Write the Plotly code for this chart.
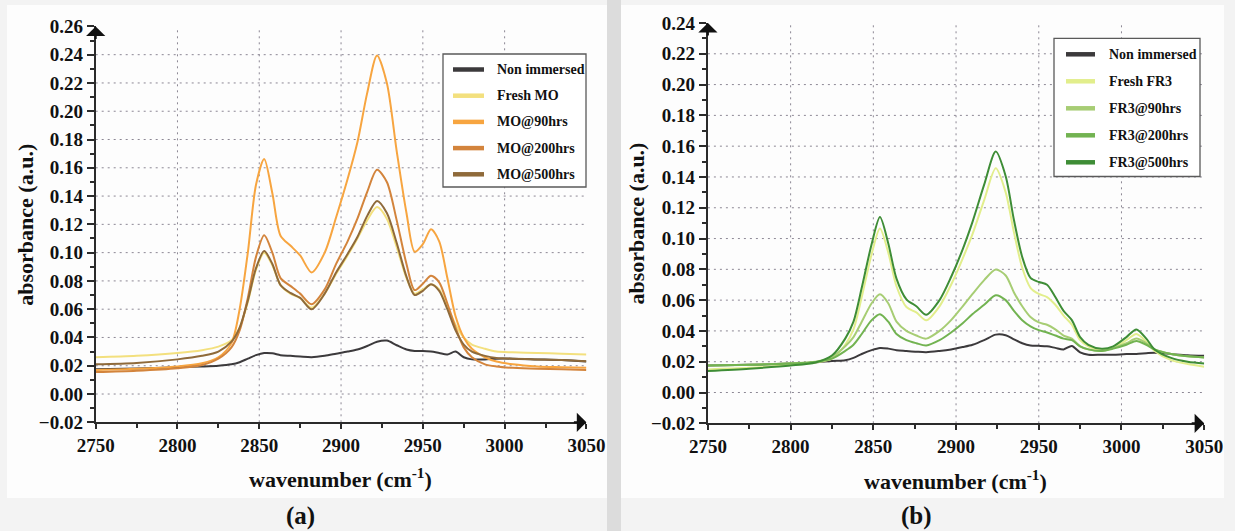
import plotly.graph_objects as go

# ---------------- data: panel (a), mineral oil ----------------
WAVENUMBER_A = [2750, 2775, 2800, 2815, 2825, 2833, 2838, 2843, 2848, 2853, 2858, 2863,
                2869, 2875, 2882, 2890, 2897, 2904, 2910, 2916, 2922, 2928, 2934, 2940,
                2945, 2950, 2955, 2960, 2965, 2970, 2975, 2980, 2988, 2995, 3005, 3020,
                3035, 3050]
NON_IMMERSED_A = [0.0175, 0.0180, 0.0190, 0.0195, 0.0200, 0.0210, 0.0225, 0.0250, 0.0275, 0.0290,
                  0.0288, 0.0275, 0.0270, 0.0265, 0.0260, 0.0270, 0.0285, 0.0300, 0.0315, 0.0340,
                  0.0370, 0.0378, 0.0345, 0.0315, 0.0305, 0.0305, 0.0300, 0.0290, 0.0280, 0.0300,
                  0.0260, 0.0245, 0.0245, 0.0250, 0.0250, 0.0245, 0.0240, 0.0230]
FRESH_MO = [0.0260, 0.0270, 0.0290, 0.0310, 0.0335, 0.0380, 0.0470, 0.0650, 0.0880, 0.1000,
            0.0910, 0.0770, 0.0710, 0.0680, 0.0610, 0.0710, 0.0850, 0.0980, 0.1100, 0.1230,
            0.1322, 0.1240, 0.1040, 0.0820, 0.0710, 0.0740, 0.0775, 0.0740, 0.0620, 0.0490,
            0.0400, 0.0350, 0.0320, 0.0300, 0.0295, 0.0290, 0.0285, 0.0280]
MO_90 = [0.0170, 0.0178, 0.0195, 0.0218, 0.0260, 0.0360, 0.0600, 0.1000, 0.1480, 0.1662,
         0.1420, 0.1120, 0.1050, 0.0980, 0.0860, 0.1000, 0.1250, 0.1520, 0.1780, 0.2130,
         0.2395, 0.2200, 0.1720, 0.1280, 0.1006, 0.1060, 0.1166, 0.1080, 0.0820, 0.0550,
         0.0400, 0.0320, 0.0260, 0.0230, 0.0210, 0.0195, 0.0190, 0.0185]
MO_200 = [0.0155, 0.0165, 0.0183, 0.0205, 0.0250, 0.0330, 0.0450, 0.0680, 0.0970, 0.1123,
          0.1000, 0.0820, 0.0765, 0.0710, 0.0635, 0.0740, 0.0920, 0.1080, 0.1240, 0.1430,
          0.1586, 0.1500, 0.1230, 0.0920, 0.0735, 0.0780, 0.0836, 0.0790, 0.0640, 0.0470,
          0.0330, 0.0260, 0.0210, 0.0195, 0.0185, 0.0178, 0.0175, 0.0170]
MO_500 = [0.0210, 0.0220, 0.0245, 0.0270, 0.0300, 0.0370, 0.0470, 0.0660, 0.0890, 0.1011,
          0.0920, 0.0770, 0.0715, 0.0680, 0.0599, 0.0710, 0.0860, 0.0990, 0.1110, 0.1260,
          0.1365, 0.1280, 0.1070, 0.0830, 0.0700, 0.0730, 0.0776, 0.0730, 0.0600, 0.0450,
          0.0350, 0.0300, 0.0270, 0.0255, 0.0250, 0.0245, 0.0240, 0.0232]

# ---------------- data: panel (b), FR3 ester ----------------
WAVENUMBER_B = [2750, 2775, 2800, 2815, 2825, 2833, 2838, 2843, 2849, 2854, 2859, 2864,
                2870, 2876, 2882, 2890, 2897, 2904, 2910, 2917, 2924, 2930, 2935, 2940,
                2945, 2950, 2955, 2960, 2965, 2970, 2975, 2980, 2988, 2995, 3003, 3009,
                3015, 3020, 3030, 3040, 3050]
NON_IMMERSED_B = [0.0176, 0.0180, 0.0188, 0.0195, 0.0205, 0.0210, 0.0225, 0.0250, 0.0275, 0.0289,
                  0.0285, 0.0275, 0.0270, 0.0265, 0.0262, 0.0270, 0.0280, 0.0295, 0.0310, 0.0340,
                  0.0376, 0.0372, 0.0345, 0.0320, 0.0305, 0.0303, 0.0300, 0.0290, 0.0280, 0.0302,
                  0.0260, 0.0245, 0.0245, 0.0245, 0.0250, 0.0250, 0.0255, 0.0258, 0.0250, 0.0242,
                  0.0238]
FRESH_FR3 = [0.0150, 0.0160, 0.0178, 0.0195, 0.0220, 0.0310, 0.0410, 0.0620, 0.0900, 0.1065,
             0.0910, 0.0690, 0.0555, 0.0520, 0.0469, 0.0560, 0.0700, 0.0870, 0.1030, 0.1250,
             0.1456, 0.1300, 0.1040, 0.0810, 0.0680, 0.0640, 0.0620, 0.0570, 0.0500, 0.0440,
             0.0340, 0.0300, 0.0275, 0.0290, 0.0340, 0.0380, 0.0330, 0.0270, 0.0210, 0.0185,
             0.0168]
FR3_90 = [0.0176, 0.0180, 0.0190, 0.0200, 0.0230, 0.0300, 0.0360, 0.0460, 0.0580, 0.0638,
          0.0580, 0.0460, 0.0400, 0.0370, 0.0350, 0.0400, 0.0470, 0.0560, 0.0640, 0.0730,
          0.0799, 0.0760, 0.0650, 0.0560, 0.0490, 0.0455, 0.0440, 0.0410, 0.0370, 0.0350,
          0.0300, 0.0280, 0.0270, 0.0290, 0.0320, 0.0350, 0.0320, 0.0280, 0.0250, 0.0235,
          0.0228]
FR3_200 = [0.0176, 0.0180, 0.0188, 0.0198, 0.0220, 0.0270, 0.0310, 0.0380, 0.0470, 0.0508,
           0.0460, 0.0380, 0.0340, 0.0320, 0.0306, 0.0340, 0.0390, 0.0450, 0.0510, 0.0570,
           0.0632, 0.0600, 0.0530, 0.0470, 0.0430, 0.0405, 0.0390, 0.0370, 0.0350, 0.0340,
           0.0300, 0.0280, 0.0270, 0.0285, 0.0310, 0.0335, 0.0310, 0.0280, 0.0250, 0.0235,
           0.0228]
FR3_500 = [0.0140, 0.0155, 0.0175, 0.0195, 0.0240, 0.0350, 0.0460, 0.0680, 0.0965, 0.1140,
           0.0970, 0.0740, 0.0605, 0.0560, 0.0505, 0.0600, 0.0750, 0.0930, 0.1110, 0.1350,
           0.1565, 0.1405, 0.1120, 0.0880, 0.0745, 0.0718, 0.0700, 0.0620, 0.0530, 0.0470,
           0.0360, 0.0310, 0.0285, 0.0300, 0.0360, 0.0410, 0.0350, 0.0280, 0.0225, 0.0200,
           0.0188]

NAMES_A = ["Non immersed", "Fresh MO", "MO@90hrs", "MO@200hrs", "MO@500hrs"]
NAMES_B = ["Non immersed", "Fresh FR3", "FR3@90hrs", "FR3@200hrs", "FR3@500hrs"]
COLORS_A = ["#3c3a3c", "#f3e07e", "#f7a540", "#d3843c", "#8f6a3a"]
COLORS_B = ["#3c3a3c", "#e2ee8c", "#a7cd74", "#72b351", "#3e8d36"]

X_TICKS = [2750, 2800, 2850, 2900, 2950, 3000, 3050]
X_MINOR = [2775, 2825, 2875, 2925, 2975, 3025]
Y_TICKS_A = [-0.02, 0.00, 0.02, 0.04, 0.06, 0.08, 0.10, 0.12, 0.14, 0.16, 0.18, 0.20, 0.22, 0.24, 0.26]
Y_TICKS_B = [-0.02, 0.00, 0.02, 0.04, 0.06, 0.08, 0.10, 0.12, 0.14, 0.16, 0.18, 0.20, 0.22, 0.24]

W, H = 1235, 531
SERIF = "Liberation Serif"
AXIS_COLOR = "#2b2b2b"
GRID_COLOR = "#8c8794"


def px(x):
    return x / W


def py(y):
    return 1 - y / H


fig = go.Figure()

for xs, series, names, colors, xa, ya in [
    (WAVENUMBER_A, [NON_IMMERSED_A, FRESH_MO, MO_90, MO_200, MO_500], NAMES_A, COLORS_A, "x", "y"),
    (WAVENUMBER_B, [NON_IMMERSED_B, FRESH_FR3, FR3_90, FR3_200, FR3_500], NAMES_B, COLORS_B, "x2", "y2"),
]:
    for vals, name, col in zip(series, names, colors):
        fig.add_trace(go.Scatter(
            x=xs, y=vals, name=name, mode="lines", xaxis=xa, yaxis=ya,
            line=dict(color=col, width=2, shape="spline", smoothing=0.8),
            showlegend=False, hoverinfo="x+y+name",
        ))

tick_font = dict(family=SERIF, size=19, color="#111111", weight="bold")


def xaxis(domain, anchor):
    return dict(
        domain=domain, anchor=anchor, range=[2750, 3050], tickvals=X_TICKS,
        ticks="outside", ticklen=5, tickwidth=1.5, tickcolor=AXIS_COLOR,
        showline=True, linecolor=AXIS_COLOR, linewidth=2, showgrid=False, zeroline=False,
        tickfont=tick_font, fixedrange=True, automargin=False,
        minor=dict(tickvals=X_MINOR, ticks="outside", ticklen=4, tickwidth=1.5,
                   tickcolor=AXIS_COLOR, showgrid=False),
    )


def yaxis(domain, anchor, ticks, top):
    minor_vals = [round(v + 0.01, 3) for v in ticks[:-1]]
    return dict(
        domain=domain, anchor=anchor, range=[-0.02, top], tickvals=ticks,
        tickformat=".2f", ticks="outside", ticklen=7, tickwidth=1.5, tickcolor=AXIS_COLOR,
        showline=True, linecolor=AXIS_COLOR, linewidth=2, showgrid=False, zeroline=False,
        tickfont=tick_font, fixedrange=True, automargin=False,
        minor=dict(tickvals=minor_vals, ticks="outside", ticklen=4, tickwidth=1.5,
                   tickcolor=AXIS_COLOR, showgrid=False),
    )


shapes = []
annotations = []

# page pieces: white panels with a grey gutter between them
shapes.append(dict(type="rect", xref="paper", yref="paper", x0=px(7), x1=px(607), y0=py(498), y1=py(5),
                   fillcolor="#fdfdfd", line=dict(width=0), layer="below"))
shapes.append(dict(type="rect", xref="paper", yref="paper", x0=px(621), x1=px(1224), y0=py(498), y1=py(5),
                   fillcolor="#fdfdfd", line=dict(width=0), layer="below"))
shapes.append(dict(type="rect", xref="paper", yref="paper", x0=px(607), x1=px(621), y0=0, y1=1,
                   fillcolor="#dcdcdc", line=dict(width=0), layer="below"))

panels = [
    dict(xa="x", ya="y", yticks=Y_TICKS_A, top=0.26, names=NAMES_A, colors=COLORS_A,
         box=(443, 586, 54, 187), row0=69.5, step=26.2, line_x=(453, 484), text_x=495,
         xtitle=(340, 478), ytitle=(24.7, 225), caption=("(a)", 300.5, 516)),
    dict(xa="x2", ya="y2", yticks=Y_TICKS_B, top=0.24, names=NAMES_B, colors=COLORS_B,
         box=(1054, 1200, 38.3, 176.5), row0=54.3, step=27.0, line_x=(1066, 1095), text_x=1106.5,
         xtitle=(955, 480), ytitle=(636.5, 223), caption=("(b)", 916, 516)),
]

for p in panels:
    xa, ya = p["xa"], p["ya"]
    # dotted grid at interior major ticks
    for xv in X_TICKS[1:-1]:
        shapes.append(dict(type="line", xref=xa, yref=ya + " domain", x0=xv, x1=xv, y0=0, y1=1,
                           line=dict(color=GRID_COLOR, width=1, dash="2px,4px"), layer="below"))
    for yv in p["yticks"][1:-1]:
        shapes.append(dict(type="line", xref=xa + " domain", yref=ya, x0=0, x1=1, y0=yv, y1=yv,
                           line=dict(color=GRID_COLOR, width=1, dash="2px,4px"), layer="below"))
    # arrow heads at the axis ends
    annotations.append(dict(xref=xa, yref=ya, x=2750, y=p["top"], ax=0, ay=14, text="",
                            showarrow=True, arrowhead=1, arrowsize=1.6, arrowwidth=2,
                            arrowcolor="#111111", standoff=0))
    annotations.append(dict(xref=xa, yref=ya, x=3050, y=-0.02, ax=-14, ay=0, text="",
                            showarrow=True, arrowhead=1, arrowsize=1.6, arrowwidth=2,
                            arrowcolor="#111111", standoff=0))
    # legend box
    bx0, bx1, by0, by1 = p["box"]
    shapes.append(dict(type="rect", xref="paper", yref="paper", x0=px(bx0), x1=px(bx1),
                       y0=py(by1), y1=py(by0), fillcolor="#ffffff",
                       line=dict(color="#5a5a5a", width=1.3)))
    for i, (name, col) in enumerate(zip(p["names"], p["colors"])):
        yy = p["row0"] + i * p["step"]
        shapes.append(dict(type="line", xref="paper", yref="paper",
                           x0=px(p["line_x"][0]), x1=px(p["line_x"][1]), y0=py(yy), y1=py(yy),
                           line=dict(color=col, width=4.5)))
        annotations.append(dict(xref="paper", yref="paper", x=px(p["text_x"]), y=py(yy),
                                xanchor="left", yanchor="middle", showarrow=False, text=name,
                                font=dict(family=SERIF, size=14, color="#111111", weight="bold")))
    # axis titles and panel caption
    annotations.append(dict(xref="paper", yref="paper", x=px(p["xtitle"][0]), y=py(p["xtitle"][1]),
                            xanchor="center", yanchor="middle", showarrow=False,
                            text="wavenumber (cm<sup>-1</sup>)",
                            font=dict(family=SERIF, size=22, color="#111111", weight="bold")))
    annotations.append(dict(xref="paper", yref="paper", x=px(p["ytitle"][0]), y=py(p["ytitle"][1]),
                            xanchor="center", yanchor="middle", showarrow=False, textangle=-90,
                            text="absorbance (a.u.)",
                            font=dict(family=SERIF, size=22, color="#111111", weight="bold")))
    cap, cx, cy = p["caption"]
    annotations.append(dict(xref="paper", yref="paper", x=px(cx), y=py(cy),
                            xanchor="center", yanchor="middle", showarrow=False, text=cap,
                            font=dict(family=SERIF, size=25, color="#111111", weight="bold")))

fig.update_layout(
    width=W, height=H, margin=dict(l=0, r=0, t=0, b=0, autoexpand=False),
    paper_bgcolor="#f3f3f3", plot_bgcolor="rgba(0,0,0,0)",
    xaxis=xaxis([px(95.7), px(586.4)], "y"),
    yaxis=yaxis([py(422.3), py(26.4)], "x", Y_TICKS_A, 0.26),
    xaxis2=xaxis([px(707.9), px(1204.2)], "y2"),
    yaxis2=yaxis([py(423.3), py(23.0)], "x2", Y_TICKS_B, 0.24),
    shapes=shapes, annotations=annotations, showlegend=False,
)

fig.write_html("out.html")
